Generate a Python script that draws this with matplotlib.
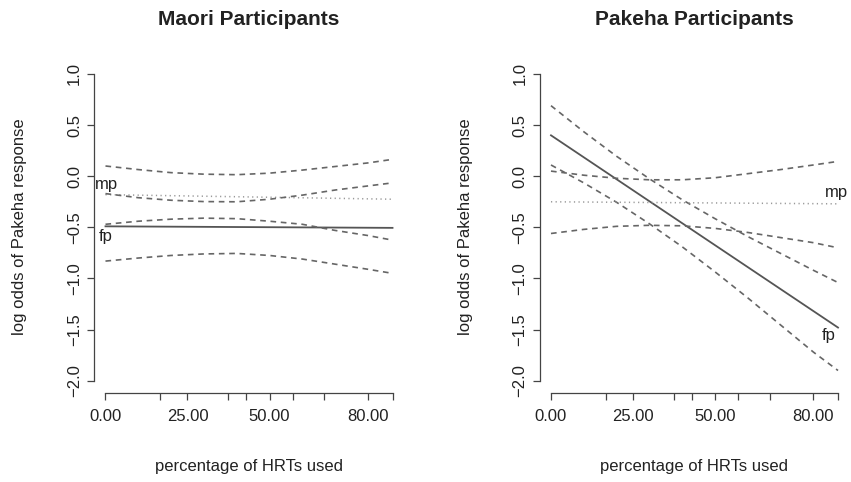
import matplotlib
matplotlib.use("Agg")
import matplotlib.pyplot as plt

plt.rcParams['font.family'] = ['Liberation Sans', 'DejaVu Sans']

# x positions where the curves were read (percentage of HRTs used)
x = [0, 10, 20, 30, 40, 50, 60, 70, 80, 87.5]
x_ends = [0, 87.5]

# Maori participants
maori_fp = [-0.49, -0.505]
maori_fp_upper = [-0.47, -0.44, -0.42, -0.41, -0.415, -0.44, -0.47, -0.53, -0.58, -0.625]
maori_fp_lower = [-0.83, -0.80, -0.775, -0.76, -0.755, -0.775, -0.81, -0.86, -0.91, -0.95]
maori_mp = [-0.18, -0.225]
maori_mp_upper = [0.10, 0.065, 0.035, 0.02, 0.015, 0.03, 0.06, 0.095, 0.13, 0.165]
maori_mp_lower = [-0.17, -0.21, -0.235, -0.248, -0.25, -0.225, -0.185, -0.135, -0.095, -0.065]

# Pakeha participants
pakeha_fp = [0.40, -1.48]
pakeha_fp_upper = [0.69, 0.435, 0.195, -0.025, -0.23, -0.415, -0.59, -0.755, -0.92, -1.04]
pakeha_fp_lower = [0.11, -0.065, -0.255, -0.465, -0.69, -0.935, -1.19, -1.455, -1.72, -1.90]
pakeha_mp = [-0.25, -0.27]
pakeha_mp_upper = [0.05, 0.01, -0.02, -0.035, -0.035, -0.015, 0.025, 0.065, 0.11, 0.145]
pakeha_mp_lower = [-0.56, -0.52, -0.49, -0.48, -0.485, -0.51, -0.55, -0.60, -0.65, -0.70]

x_ticks = [0, 16.67, 25, 37.5, 42.86, 50, 57.14, 66.67, 80, 87.5]
x_ticklabels = ["0.00", "", "25.00", "", "", "50.00", "", "", "80.00", ""]
y_ticks = [-2.0, -1.5, -1.0, -0.5, 0.0, 0.5, 1.0]
y_ticklabels = [("%.1f" % v).replace("-", "\u2212") for v in y_ticks]

W, H = 851, 482
fig = plt.figure(figsize=(W / 100, H / 100), dpi=100)

panels = [
    ("Maori Participants", 94, maori_fp, maori_fp_upper, maori_fp_lower,
     maori_mp, maori_mp_upper, maori_mp_lower,
     [(0.3, -0.08, "mp"), (0.2, -0.59, "fp")]),
    ("Pakeha Participants", 539.5, pakeha_fp, pakeha_fp_upper, pakeha_fp_lower,
     pakeha_mp, pakeha_mp_upper, pakeha_mp_lower,
     [(87.0, -0.16, "mp"), (84.8, -1.56, "fp")]),
]

ax_w, ax_top, ax_bot = 310, 61.7, 393
dash = (0, (3.4, 2.8))
dot = (0, (0.8, 2.2))

for title, left, fp, fp_up, fp_lo, mp, mp_up, mp_lo, labels in panels:
    ax = fig.add_axes([left / W, 1 - ax_bot / H, ax_w / W, (ax_bot - ax_top) / H])
    ax.plot(x_ends, fp, color="#555555", lw=1.3)
    ax.plot(x, fp_up, color="#666666", lw=1.2, linestyle=dash)
    ax.plot(x, fp_lo, color="#666666", lw=1.2, linestyle=dash)
    ax.plot(x_ends, mp, color="#999999", lw=1.1, linestyle=dot)
    ax.plot(x, mp_up, color="#666666", lw=1.2, linestyle=dash)
    ax.plot(x, mp_lo, color="#666666", lw=1.2, linestyle=dash)
    for tx, ty, s in labels:
        ax.text(tx, ty, s, fontsize=12, ha="center", va="center", color="#222222")

    ax.set_xlim(-3.5, 91)
    ax.set_ylim(-2.12, 1.12)
    for side in ["top", "right"]:
        ax.spines[side].set_visible(False)
    ax.spines["left"].set_bounds(-2.0, 1.0)
    ax.spines["bottom"].set_bounds(0, 87.5)
    for side in ["left", "bottom"]:
        ax.spines[side].set_color("#444444")
        ax.spines[side].set_linewidth(0.9)

    ax.set_xticks(x_ticks)
    ax.set_xticklabels(x_ticklabels)
    ax.set_yticks(y_ticks)
    ax.set_yticklabels(y_ticklabels)
    ax.tick_params(direction="out", length=5, width=0.9, color="#444444",
                   labelsize=12, labelcolor="#222222")
    ax.tick_params(axis="x", pad=6.5)
    ax.tick_params(axis="y", pad=3.5)
    for lab in ax.get_yticklabels():
        lab.set_rotation(90)
        lab.set_va("center")

    cx = (left + left + ax_w) / 2
    fig.text(cx / W, 1 - 25 / H, title, fontsize=15, fontweight="bold",
             ha="center", va="baseline", color="#222222")
    fig.text(cx / W, 1 - 466 / H, "percentage of HRTs used", fontsize=12,
             ha="center", va="center", color="#222222")
    fig.text((left - 74) / W, 1 - 227 / H, "log odds of Pakeha response", fontsize=12,
             rotation=90, ha="center", va="center", color="#222222")

fig.savefig("out.png", dpi=100)
